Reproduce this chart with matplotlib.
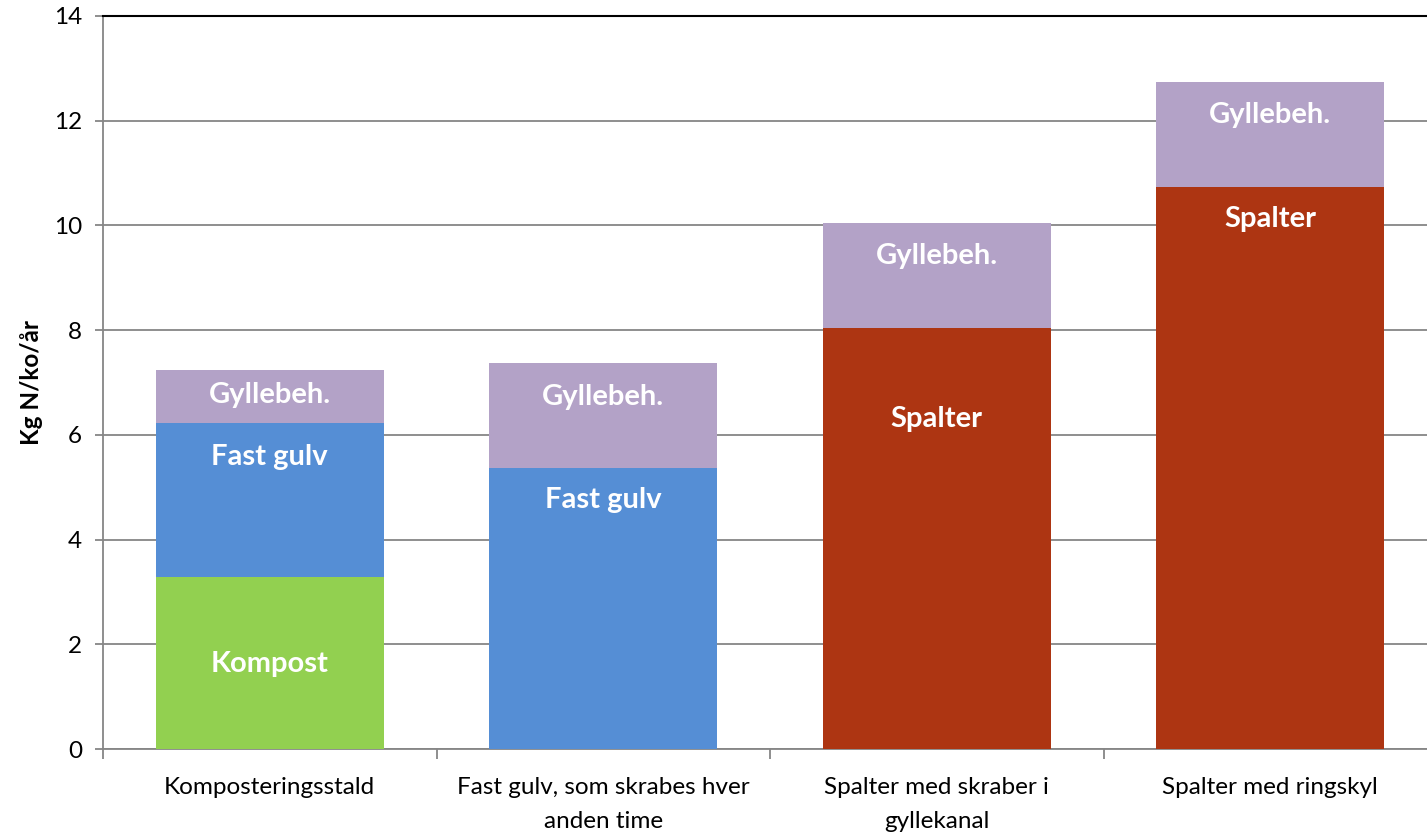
import matplotlib.pyplot as plt
import numpy as np
from matplotlib.ticker import FixedLocator, NullFormatter

plt.rcParams["font.family"] = ["Lato", "DejaVu Sans"]

# Stalde og deres N-tab (kg N/ko/år)
categories = [
    "Komposteringsstald",
    "Fast gulv, som skrabes hver\nanden time",
    "Spalter med skraber i\ngyllekanal",
    "Spalter med ringskyl",
]
kompost = [3.28, 0, 0, 0]
fast_gulv = [2.95, 5.37, 0, 0]
spalter = [0, 0, 8.04, 10.74]
gyllebeh = [1.01, 2.0, 2.01, 2.0]

segment_names = ["Kompost", "Fast gulv", "Spalter", "Gyllebeh."]
segment_colors = ["#92d050", "#558ed5", "#ad3512", "#b3a2c7"]

# placering af tekst inde i søjlerne (y i kg N)
label_y = {
    "Kompost": [1.62, None, None, None],
    "Fast gulv": [5.58, 4.76, None, None],
    "Spalter": [None, None, 6.30, 10.12],
    "Gyllebeh.": [6.76, 6.72, 9.42, 12.11],
}

fig = plt.figure(figsize=(14.27, 8.34), dpi=100)
ax = fig.add_axes([103 / 1427, 85 / 834, 1334 / 1427, 733 / 834])

x = np.arange(len(categories))
bottom = np.zeros(len(categories))
for name, vals, color in zip(segment_names, [kompost, fast_gulv, spalter, gyllebeh], segment_colors):
    vals = np.array(vals)
    ax.bar(x, vals, width=0.684, bottom=bottom, color=color, zorder=3)
    for i, yy in enumerate(label_y[name]):
        if yy is not None:
            ax.text(x[i], yy, name, ha="center", va="center", color="white",
                    fontsize=21, fontweight="bold", zorder=4)
    bottom += vals

ax.set_xlim(-0.5, 3.5)
ax.set_ylim(0, 14)
ax.set_yticks(np.arange(0, 15, 2))
ax.yaxis.grid(True, color="#868686", linewidth=1.3, zorder=0)
ax.set_axisbelow(True)

ax.set_xticks(x)
ax.set_xticklabels(categories, fontsize=17.5, linespacing=1.75)
ax.xaxis.set_minor_locator(FixedLocator(np.arange(-0.5, 4, 1)))
ax.xaxis.set_minor_formatter(NullFormatter())
ax.tick_params(axis="x", which="major", length=0, pad=20)
ax.tick_params(axis="x", which="minor", length=7, width=1.3, color="#868686")
ax.tick_params(axis="y", length=6, width=1.3, color="#868686", labelsize=17.5, pad=9)

ax.set_ylabel("Kg N/ko/år", fontsize=17.5, fontweight="bold", labelpad=8)

for side in ["left", "bottom"]:
    ax.spines[side].set_color("#868686")
    ax.spines[side].set_linewidth(1.3)
ax.spines["top"].set_color("black")
ax.spines["top"].set_linewidth(1.5)
ax.spines["right"].set_visible(False)

fig.savefig("out.png", dpi=100)
